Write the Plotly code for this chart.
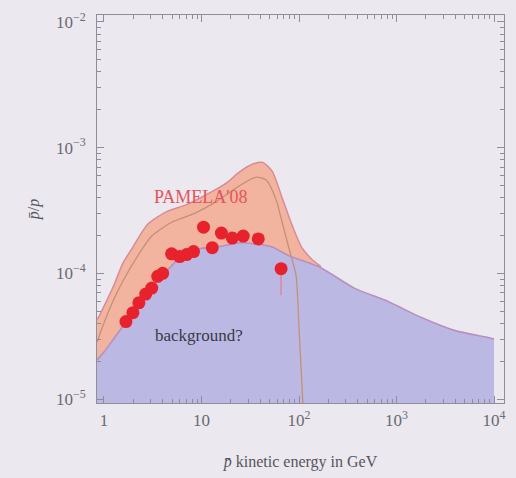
import numpy as np
import plotly.graph_objects as go

# Antiproton / proton ratio measurements (kinetic energy in GeV)
pamela_E = [1.68, 1.98, 2.28, 2.68, 3.09, 3.56, 4.0, 4.94, 5.97, 7.03, 8.29,
            10.5, 12.9, 16.0, 20.7, 26.8, 38.2, 65.5]
pamela_ratio = [4.14e-5, 4.87e-5, 5.83e-5, 6.85e-5, 7.64e-5, 9.48e-5, 1.0e-4,
                1.43e-4, 1.36e-4, 1.41e-4, 1.49e-4, 2.33e-4, 1.60e-4, 2.09e-4,
                1.91e-4, 1.98e-4, 1.88e-4, 1.09e-4]
pamela_err_lo = [0] * 17 + [4.2e-5]

# Astrophysical secondary background
bg_E = [0.85, 1.0, 1.15, 1.72, 2.50, 4.40, 7.03, 16.4, 24.4, 36.4, 53.0, 79.0,
        160, 373, 809, 1800, 3910, 8490, 10000]
bg_ratio = [2.05e-5, 2.37e-5, 2.74e-5, 4.22e-5, 6.6e-5, 1.04e-4, 1.49e-4,
            1.65e-4, 1.75e-4, 1.71e-4, 1.62e-4, 1.38e-4, 1.13e-4, 7.6e-5,
            6.0e-5, 4.45e-5, 3.52e-5, 3.1e-5, 3.0e-5]

# Background plus extra component
tot_E = [0.85, 0.91, 1.10, 1.29, 1.56, 1.98, 2.81, 4.40, 7.03, 12.1, 18.0,
         24.4, 33.1, 41.9, 53.0, 67.1, 84.9, 107, 136, 168]
tot_ratio = [4.3e-5, 4.7e-5, 6.38e-5, 8.35e-5, 1.2e-4, 1.62e-4, 2.46e-4,
             3.1e-4, 3.52e-4, 4.37e-4, 5.23e-4, 6.38e-4, 7.37e-4, 7.64e-4,
             6.5e-4, 4.0e-4, 2.42e-4, 1.6e-4, 1.29e-4, 1.13e-4]

# Extra component alone
sig_E = [0.85, 0.977, 1.24, 1.56, 2.22, 3.09, 4.94, 8.48, 13.6, 24.4, 36.4,
         46.0, 58.2, 67.1, 79.1, 93.2, 100, 110]
sig_ratio = [2.84e-5, 3.85e-5, 6.04e-5, 8.66e-5, 1.38e-4, 1.98e-4, 2.55e-4,
             3.0e-4, 3.65e-4, 4.96e-4, 5.83e-4, 5.52e-4, 3.86e-4, 2.55e-4,
             1.57e-4, 9.64e-5, 3.7e-5, 8.8e-6]

x_tick_vals = [1, 10, 100, 1000, 10000]
x_tick_text = ["1", "10", "10<sup>2</sup>", "10<sup>3</sup>", "10<sup>4</sup>"]
y_tick_vals = [1e-5, 1e-4, 1e-3, 1e-2]
y_tick_text = ["10<sup>−5</sup>", "10<sup>−4</sup>", "10<sup>−3</sup>", "10<sup>−2</sup>"]

FLOOR = 1e-7
BG = "#ebe8ef"
FONT = "Liberation Serif"
SMOOTH = dict(shape="spline", smoothing=0.7)


def floor_trace(xs):
    """Invisible flat line far below the axis range, used as a fill base."""
    return go.Scatter(x=[xs[0], xs[-1]], y=[FLOOR, FLOOR], mode="lines",
                      line=dict(width=0), hoverinfo="skip")


fig = go.Figure()

# filled areas: total first, background drawn over it
fig.add_trace(floor_trace(tot_E))
fig.add_trace(go.Scatter(x=tot_E, y=tot_ratio, fill="tonexty", fillcolor="#f2b49f",
                         mode="lines", line=dict(width=0, **SMOOTH), hoverinfo="skip"))
fig.add_trace(floor_trace(bg_E))
fig.add_trace(go.Scatter(x=bg_E, y=bg_ratio, fill="tonexty", fillcolor="#bcb8e4",
                         mode="lines", line=dict(width=0, **SMOOTH), hoverinfo="skip"))

# curve outlines
fig.add_trace(go.Scatter(x=tot_E, y=tot_ratio, mode="lines",
                         line=dict(color="#d98c98", width=1.5, **SMOOTH)))
fig.add_trace(go.Scatter(x=sig_E, y=sig_ratio, mode="lines",
                         line=dict(color="#c49075", width=1.3, **SMOOTH)))
fig.add_trace(go.Scatter(x=bg_E, y=bg_ratio, mode="lines",
                         line=dict(color="#b98fbf", width=1.6, **SMOOTH)))

fig.add_trace(go.Scatter(
    x=pamela_E, y=pamela_ratio, mode="markers",
    marker=dict(color="#e8222c", size=13),
    error_y=dict(type="data", symmetric=False, array=[0] * len(pamela_E),
                 arrayminus=pamela_err_lo, color="#e37b8c", thickness=1.2, width=0),
))

fig.add_annotation(x=np.log10(10), y=np.log10(4.07e-4), text="PAMELA'08",
                   showarrow=False, font=dict(family=FONT, size=18, color="#e5545a"))
fig.add_annotation(x=np.log10(9.5), y=np.log10(3.2e-5), text="background?",
                   showarrow=False, font=dict(family=FONT, size=17, color="#3a3a44"))

# minor tick positions: 2..9 times each decade
x_minor = [m * 10 ** d for d in range(0, 5) for m in range(2, 10)]
y_minor = [m * 10.0 ** d for d in range(-6, -1) for m in range(2, 10)]

axis_common = dict(
    type="log", showgrid=False, zeroline=False, showline=True,
    linecolor="#8f8c9c", linewidth=1, mirror="allticks",
    ticks="inside", ticklen=7, tickcolor="#8f8c9c",
    tickfont=dict(family=FONT, size=17, color="#6a6a72"),
)

fig.update_xaxes(**axis_common, range=[-0.0714, 4.102],
                 tickvals=x_tick_vals, ticktext=x_tick_text, ticklabelstandoff=2,
                 minor=dict(tickvals=x_minor, ticks="inside", ticklen=4,
                            tickcolor="#8f8c9c", showgrid=False),
                 title=dict(text="<i>p̄</i> kinetic energy in GeV", standoff=26,
                            font=dict(family=FONT, size=16, color="#55555e")))
fig.update_yaxes(**axis_common, range=[-5.031, -1.945],
                 tickvals=y_tick_vals, ticktext=y_tick_text, ticklabelstandoff=7,
                 minor=dict(tickvals=y_minor, ticks="inside", ticklen=4,
                            tickcolor="#8f8c9c", showgrid=False),
                 title=dict(text="<i>p̄</i>/<i>p</i>", standoff=12,
                            font=dict(family=FONT, size=16, color="#55555e")))

fig.update_layout(
    width=516, height=478, showlegend=False,
    margin=dict(l=97, r=10, t=12, b=71),
    paper_bgcolor=BG, plot_bgcolor=BG,
)

fig.write_html("out.html")
